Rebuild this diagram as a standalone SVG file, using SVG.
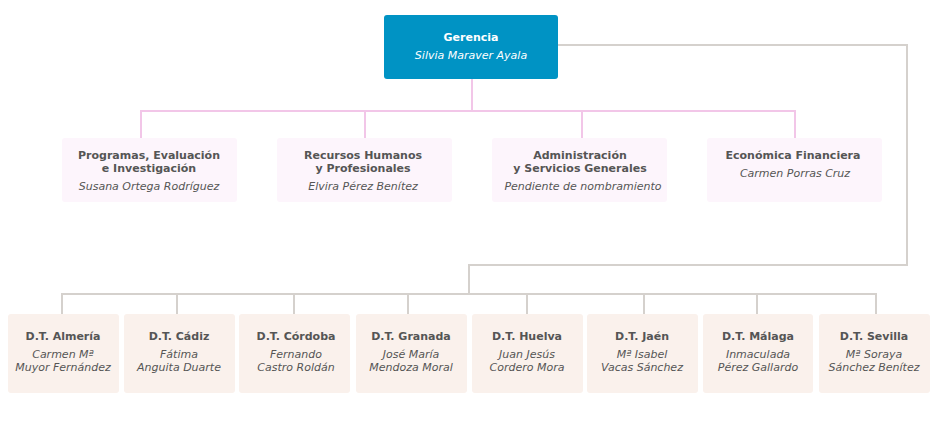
<svg xmlns="http://www.w3.org/2000/svg" width="940" height="448" viewBox="0 0 940 448">
<style>
text{font-family:"DejaVu Sans",Verdana,sans-serif;font-size:11px;text-anchor:middle;fill:#555}
.t{font-weight:bold}
.n{font-style:italic}
.w{fill:#fff}
.top{fill:#0093c4}
.pk{fill:#fdf5fc}
.br{fill:#faf1ec}
.lp{fill:none;stroke:#f2c6e8;stroke-width:2}
.lg{fill:none;stroke:#d5d1cd;stroke-width:2}
</style>
<rect width="940" height="448" fill="#fff"/>
<g id="connectors">
<path class="lp" d="M472 79V111M141 138V111H795V138M365 111V138M582 111V138"/>
<path class="lg" d="M558 45H907V265H469V294M62 315V294H876V315M177 294V315M294 294V315M408 294V315M527 294V315M644 294V315M757 294V315"/>
</g>
<g id="gerencia"><rect class="top" x="384" y="15" width="174" height="64" rx="3"/><text class="t w" x="471" y="41">Gerencia</text><text class="n w" x="471" y="59">Silvia Maraver Ayala</text></g>
<g id="programas"><rect class="pk" x="62" y="138" width="175" height="64" rx="3"/><text class="t" x="149" y="159">Programas, Evaluación</text><text class="t" x="149" y="172">e Investigación</text><text class="n" x="149" y="190">Susana Ortega Rodríguez</text></g>
<g id="rrhh"><rect class="pk" x="277" y="138" width="175" height="64" rx="3"/><text class="t" x="363" y="159">Recursos Humanos</text><text class="t" x="363" y="172">y Profesionales</text><text class="n" x="363" y="190">Elvira Pérez Benítez</text></g>
<g id="admin"><rect class="pk" x="492" y="138" width="175" height="64" rx="3"/><text class="t" x="580" y="159">Administración</text><text class="t" x="580" y="172">y Servicios Generales</text><text class="n" x="583" y="190">Pendiente de nombramiento</text></g>
<g id="economica"><rect class="pk" x="707" y="138" width="175" height="64" rx="3"/><text class="t" x="793" y="159">Económica Financiera</text><text class="n" x="795" y="177">Carmen Porras Cruz</text></g>
<g id="almeria"><rect class="br" x="8" y="314" width="111" height="79" rx="3"/><text class="t" x="63" y="340">D.T. Almería</text><text class="n" x="63" y="358">Carmen Mª</text><text class="n" x="63" y="371">Muyor Fernández</text></g>
<g id="cadiz"><rect class="br" x="124" y="314" width="111" height="79" rx="3"/><text class="t" x="179" y="340">D.T. Cádiz</text><text class="n" x="179" y="358">Fátima</text><text class="n" x="179" y="371">Anguita Duarte</text></g>
<g id="cordoba"><rect class="br" x="239" y="314" width="111" height="79" rx="3"/><text class="t" x="296" y="340">D.T. Córdoba</text><text class="n" x="296" y="358">Fernando</text><text class="n" x="296" y="371">Castro Roldán</text></g>
<g id="granada"><rect class="br" x="356" y="314" width="111" height="79" rx="3"/><text class="t" x="411" y="340">D.T. Granada</text><text class="n" x="411" y="358">José María</text><text class="n" x="411" y="371">Mendoza Moral</text></g>
<g id="huelva"><rect class="br" x="472" y="314" width="111" height="79" rx="3"/><text class="t" x="527" y="340">D.T. Huelva</text><text class="n" x="527" y="358">Juan Jesús</text><text class="n" x="527" y="371">Cordero Mora</text></g>
<g id="jaen"><rect class="br" x="587" y="314" width="111" height="79" rx="3"/><text class="t" x="642" y="340">D.T. Jaén</text><text class="n" x="642" y="358">Mª Isabel</text><text class="n" x="642" y="371">Vacas Sánchez</text></g>
<g id="malaga"><rect class="br" x="703" y="314" width="110" height="79" rx="3"/><text class="t" x="758" y="340">D.T. Málaga</text><text class="n" x="758" y="358">Inmaculada</text><text class="n" x="758" y="371">Pérez Gallardo</text></g>
<g id="sevilla"><rect class="br" x="819" y="314" width="111" height="79" rx="3"/><text class="t" x="874" y="340">D.T. Sevilla</text><text class="n" x="874" y="358">Mª Soraya</text><text class="n" x="874" y="371">Sánchez Benítez</text></g>
</svg>
